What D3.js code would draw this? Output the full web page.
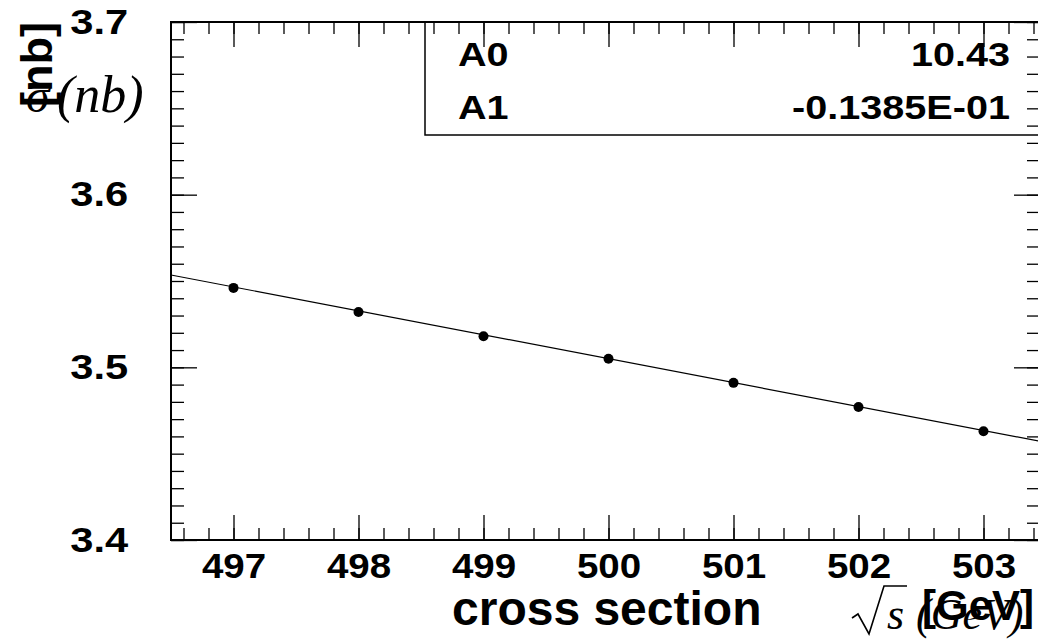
<!DOCTYPE html>
<html>
<head>
<meta charset="utf-8">
<script src="https://cdn.jsdelivr.net/npm/d3@7"></script>
<style>
  body { margin: 0; background: #fff; }
  svg { display: block; }
  .tick line { stroke: #000; }
</style>
</head>
<body>
<div class="canva"></div>
<script>
// measured points (sqrt(s), cross section)
const energies = [497, 498, 499, 500, 501, 502, 503];
const sigmas = [3.546, 3.532, 3.518, 3.505, 3.491, 3.477, 3.463];
// fit parameters, straight line A0 + A1*x
const paramNames = ['A0', 'A1'];
const paramLabels = ['10.43', '-0.1385E-01'];
const paramValues = [10.43, -0.01385];
// axis ticks
const xMajor = [497, 498, 499, 500, 501, 502, 503];
const yMajor = [3.4, 3.5, 3.6, 3.7];

const W = 1038, H = 639;
const fLeft = 171, fRight = 1040, fTop = 22, fBottom = 540;
const SANS = '"Liberation Sans", Arial, Helvetica, sans-serif';
const SERIF = '"Liberation Serif", "Times New Roman", serif';

const svg = d3.select('.canva').append('svg')
    .attr('width', W)
    .attr('height', H);

const x = d3.scaleLinear().domain([496.5, 503.452]).range([fLeft, fRight]);
const y = d3.scaleLinear().domain([3.4, 3.7]).range([fBottom, fTop]);

const xMinor = d3.range(496.6, 503.45, 0.2).map(v => +v.toFixed(1));
const yMinor = d3.range(3.40, 3.7001, 0.01).map(v => +v.toFixed(2));

function styleAxis(g) {
    g.select('.domain').remove();
    g.selectAll('.tick line').attr('stroke-width', 1.3);
}

function boldText(sel, size) {
    return sel.style('font-family', SANS).style('font-weight', 'bold')
        .style('font-size', size + 'px').attr('fill', '#000');
}

function serifText(sel, size) {
    return sel.style('font-family', SERIF).style('font-style', 'italic')
        .style('font-size', size + 'px').attr('fill', '#000');
}

// minor ticks
svg.append('g').attr('transform', `translate(0,${fBottom})`)
    .call(d3.axisBottom(x).tickValues(xMinor).tickSize(-12).tickFormat(''))
    .call(styleAxis);
svg.append('g').attr('transform', `translate(0,${fTop})`)
    .call(d3.axisTop(x).tickValues(xMinor).tickSize(-12).tickFormat(''))
    .call(styleAxis);
svg.append('g').attr('transform', `translate(${fLeft},0)`)
    .call(d3.axisLeft(y).tickValues(yMinor).tickSize(-13).tickFormat(''))
    .call(styleAxis);
svg.append('g').attr('transform', `translate(${fRight},0)`)
    .call(d3.axisRight(y).tickValues(yMinor).tickSize(-13).tickFormat(''))
    .call(styleAxis);

// major ticks with labels
const xAxis = svg.append('g').attr('transform', `translate(0,${fBottom})`)
    .call(d3.axisBottom(x).tickValues(xMajor).tickSize(-25).tickPadding(13).tickFormat(d3.format('d')))
    .call(styleAxis);
boldText(xAxis.selectAll('text'), 35).attr('transform', 'scale(1.1,1)');

svg.append('g').attr('transform', `translate(0,${fTop})`)
    .call(d3.axisTop(x).tickValues(xMajor).tickSize(-25).tickFormat(''))
    .call(styleAxis);

const yAxis = svg.append('g').attr('transform', `translate(${fLeft},0)`)
    .call(d3.axisLeft(y).tickValues(yMajor).tickSize(-26).tickPadding(36).tickFormat(d3.format('.1f')))
    .call(styleAxis);
boldText(yAxis.selectAll('text'), 35).attr('transform', 'scale(1.19,1)');

svg.append('g').attr('transform', `translate(${fRight},0)`)
    .call(d3.axisRight(y).tickValues(yMajor).tickSize(-26).tickFormat(''))
    .call(styleAxis);

// frame
svg.append('rect')
    .attr('x', fLeft).attr('y', fTop)
    .attr('width', fRight - fLeft).attr('height', fBottom - fTop)
    .attr('fill', 'none').attr('stroke', '#000').attr('stroke-width', 2);

// fit line
const fitX = x.domain();
svg.append('line')
    .attr('x1', x(fitX[0])).attr('y1', y(paramValues[0] + paramValues[1] * fitX[0]))
    .attr('x2', x(fitX[1])).attr('y2', y(paramValues[0] + paramValues[1] * fitX[1]))
    .attr('stroke', '#000').attr('stroke-width', 1.2);

// points
svg.selectAll('circle')
    .data(energies)
    .enter()
    .append('circle')
    .attr('cx', d => x(d))
    .attr('cy', (d, i) => y(sigmas[i]))
    .attr('r', 5)
    .attr('fill', '#000');

// stats box
svg.append('rect')
    .attr('x', 425).attr('y', fTop)
    .attr('width', fRight - 425).attr('height', 135 - fTop)
    .attr('fill', 'none').attr('stroke', '#000').attr('stroke-width', 1.5);

paramNames.forEach((n, i) => {
    const yy = 66 + i * 53;
    boldText(svg.append('text'), 33)
        .attr('transform', `translate(458,${yy}) scale(1.2,1)`).text(n);
    boldText(svg.append('text'), 33)
        .attr('transform', `translate(1010,${yy}) scale(1.2,1)`)
        .attr('text-anchor', 'end').text(paramLabels[i]);
});

// axis titles
boldText(svg.append('text'), 48)
    .attr('x', 452).attr('y', 625)
    .text('cross section');

boldText(svg.append('text'), 45)
    .attr('transform', 'translate(52,22) rotate(-90)')
    .attr('text-anchor', 'end')
    .text('[nb]');

serifText(svg.append('text'), 48)
    .attr('x', 26).attr('y', 112)
    .text('σ');
serifText(svg.append('text'), 52)
    .attr('x', 57).attr('y', 112)
    .text('(nb)');

boldText(svg.append('text'), 42)
    .attr('x', 1034).attr('y', 620)
    .attr('text-anchor', 'end')
    .text('[GeV]');

// sqrt(s) (GeV) in serif italic, radical drawn as a stroke
svg.append('path')
    .attr('d', 'M852,618 L858,614 L869,634 L884,586 L907,586')
    .attr('fill', 'none').attr('stroke', '#000').attr('stroke-width', 1.6);
serifText(svg.append('text'), 44)
    .attr('x', 887).attr('y', 629)
    .text('s');
serifText(svg.append('text'), 44)
    .attr('x', 916).attr('y', 629)
    .text('(GeV)');
</script>
</body>
</html>
